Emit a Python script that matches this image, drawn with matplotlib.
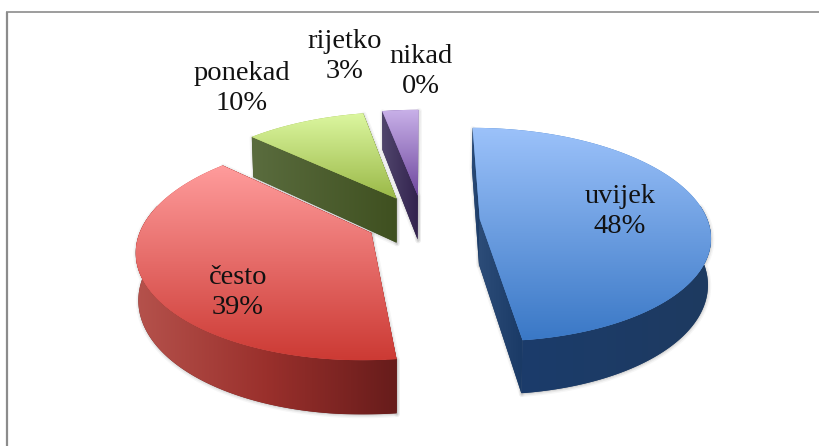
import numpy as np
import matplotlib
matplotlib.use("Agg")
import matplotlib.pyplot as plt
from matplotlib.patches import Polygon
from matplotlib.colors import LinearSegmentedColormap as LSC

# --- data ---
categories = ["uvijek", "često", "ponekad", "rijetko", "nikad"]
values = [48, 39, 10, 3, 0]

# --- layout / style ---
label_xy = [(620, 233), (238, 314), (242, 110), (345, 78), (421, 93)]
top_colors = [("#9CC2FA", "#3A78C6"), ("#FF9C9C", "#CC3A34"), ("#DCF7A0", "#9AB847"),
              ("#C8B0E8", "#6E479E"), ("#C8B0E8", "#6E479E")]
arc_colors = [("#1B3C6B", "#1E3A60"), ("#B5524C", "#9A302C", "#671C1B"),
              ("#56683A", "#3F5020"), ("#4E4468", "#33234F"), ("#4E4468", "#33234F")]
cut_colors = [("#2C4C78", "#1A3A66"), ("#A83530", "#6B1A18"), ("#5A6C3E", "#3F5020"),
              ("#50466C", "#33234F"), ("#50466C", "#33234F")]
draw_order = [3, 2, 1, 0]

# camera model (pixels)
CX, CY, SX, SY, Q = 423.0, 220.8, 228.0, 105.0, 0.145
EXPLODE, HEIGHT, VX, TAPER = 0.25, 45.5, 400.0, 0.010


def project(X, Y):
    X, Y = np.asarray(X, float), np.asarray(Y, float)
    w = 1 + Q * Y
    return CX + SX * X / w, CY - SY * Y / w


def lower(px, py, X, Y):
    w = 1 + Q * np.asarray(Y, float)
    return px + (VX - px) * TAPER, py + HEIGHT / w


fig = plt.figure(figsize=(8.2, 4.46), dpi=100, facecolor="white")
ax = fig.add_axes([0, 0, 1, 1])
ax.set_xlim(0, 820)
ax.set_ylim(446, 0)
ax.axis("off")
ax.autoscale(False)

# chart frame
ax.plot([7, 7], [446, 12], color="#8C8C8C", lw=1.6, solid_capstyle="butt", zorder=1)
ax.plot([6, 820], [12, 12], color="#8C8C8C", lw=1.2, solid_capstyle="butt", zorder=1)


def gradient_poly(pts, colors, vertical, z):
    pts = np.asarray(pts)
    poly = Polygon(pts, closed=True, facecolor=colors[-1], edgecolor="none", zorder=z)
    ax.add_patch(poly)
    x0, y0 = pts.min(axis=0)
    x1, y1 = pts.max(axis=0)
    g = np.linspace(0, 1, 256)
    g = g[:, None] if vertical else g[None, :]
    im = ax.imshow(g, extent=(x0, x1, y1, y0), aspect="auto", origin="upper",
                   cmap=LSC.from_list("g", list(colors)), zorder=z, interpolation="bilinear")
    im.set_clip_path(poly)


def slice_geometry(a0, a1):
    mid = np.radians((a0 + a1) / 2)
    ox, oy = EXPLODE * np.sin(mid), EXPLODE * np.cos(mid)
    th = np.radians(np.linspace(a0, a1, 160))
    return ox, oy, ox + np.sin(th), oy + np.cos(th)


total = sum(values)
cum = np.cumsum([0] + values) / total * 360
z = 3.0
for i in draw_order:
    a0, a1 = cum[i], cum[i + 1]
    if a1 <= a0:
        continue
    ox, oy, ax_, ay_ = slice_geometry(a0, a1)
    tx, ty = project(ax_, ay_)
    bx, by = lower(tx, ty, ax_, ay_)
    vx, vy = project(ox, oy)
    vbx, vby = lower(vx, vy, ox, oy)

    top = np.column_stack([np.r_[vx, tx], np.r_[vy, ty]])
    cut_a = np.array([[vx, vy], [tx[0], ty[0]], [bx[0], by[0]], [vbx, vby]])
    cut_b = np.array([[vx, vy], [tx[-1], ty[-1]], [bx[-1], by[-1]], [vbx, vby]])
    # nearer cut wall is painted last
    cuts = [cut_b, cut_a] if ay_[0] < ay_[-1] else [cut_a, cut_b]

    front = ay_ < 0.15
    wall = None
    if front.any():
        wall = np.column_stack([np.r_[tx[front], bx[front][::-1]],
                                np.r_[ty[front], by[front][::-1]]])

    # soft shadow under the side walls only
    for part in cuts + ([wall] if wall is not None else []):
        for lw, al in ((4, 0.05), (2, 0.09)):
            ax.add_patch(Polygon(part + [0.5, 1], closed=True, facecolor="#555555",
                                 edgecolor="#555555", lw=lw, alpha=al, zorder=z,
                                 joinstyle="round"))
    z += 0.1
    for cut in cuts:
        gradient_poly(cut, cut_colors[i], False, z)
        z += 0.01
    z += 0.1
    if wall is not None:
        gradient_poly(wall, arc_colors[i], False, z)
    z += 0.1
    gradient_poly(top, top_colors[i], True, z)
    z += 0.1

for name, val, (lx, ly) in zip(categories, values, label_xy):
    ax.text(lx, ly, f"{name}\n{val}%", ha="center", va="baseline", fontsize=20.5,
            family="Liberation Serif", color="#111111", linespacing=1.27, zorder=20)

fig.savefig("out.png", dpi=100, facecolor="white")
